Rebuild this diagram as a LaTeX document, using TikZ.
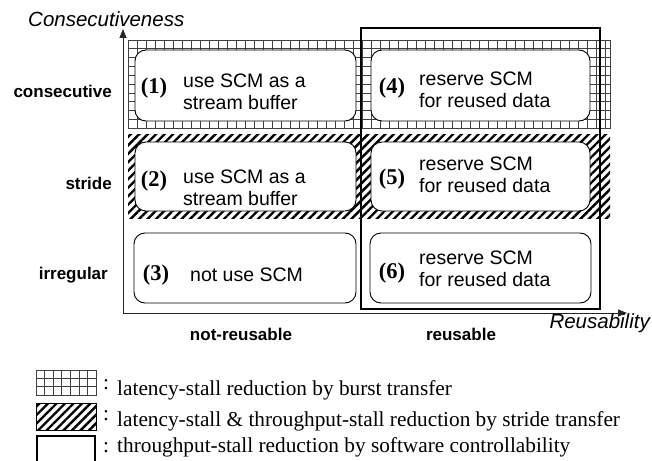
\documentclass[tikz,border=0pt]{standalone}
\usepackage{fontspec}
\setmainfont{Liberation Serif}
\setsansfont{Liberation Sans}
\usetikzlibrary{arrows.meta,patterns.meta}
\begin{document}
\begin{tikzpicture}[x=1pt,y=-1pt,
  cell/.style={draw=black, line width=0.9pt, rounded corners=11pt, fill=white, inner sep=0pt},
  num/.style={font=\fontsize{22.5}{24}\selectfont\bfseries, inner sep=0pt},
  btext/.style={font=\sffamily\fontsize{19.5}{22}\selectfont, align=left, anchor=west, inner sep=0pt},
  rowlab/.style={font=\sffamily\bfseries\fontsize{17}{18}\selectfont, anchor=east, inner sep=0pt},
  collab/.style={font=\sffamily\bfseries\fontsize{17}{18}\selectfont, inner sep=0pt},
  axlab/.style={font=\sffamily\itshape\fontsize{20.5}{22}\selectfont, inner sep=0pt},
  leg/.style={font=\fontsize{21.3}{22}\selectfont, anchor=base west, inner sep=0pt},
  gridline/.style={draw=black!75, line width=0.6pt},
  hatch/.style={pattern={Lines[angle=45,distance=6pt,line width=2.4pt]}},
  axis/.style={line width=1pt, draw=black!85, -{Triangle[length=9pt,width=7pt]}}
]
\useasboundingbox (0,0) rectangle (652,460);

% axes
\coordinate (O) at (123,313);
\coordinate (ytip) at (123,29);
\coordinate (xtip) at (627,313);
\draw[axis] (O) -- (ytip);
\draw[axis] (O) -- (xtip);

% grid band (consecutive)
\begin{scope}
\clip (128,40) rectangle (610,128);
\foreach \i in {0,...,54} \draw[gridline] ({128+9*\i},40) -- ({128+9*\i},128);
\foreach \j in {0,...,10} \draw[gridline] (128,{40+8.8*\j}) -- (610,{40+8.8*\j});
\end{scope}
\draw[gridline] (128,40) rectangle (610,128);

% hatched band (stride)
\fill[hatch] (128,134) rectangle (610,218);

% cells
\node[cell, minimum width=221pt, minimum height=71pt] (b1) at (245.5,85.5) {};
\node[cell, minimum width=219pt, minimum height=71pt] (b4) at (480.5,85.5) {};
\node[cell, minimum width=221pt, minimum height=69pt] (b2) at (245.5,176.5) {};
\node[cell, minimum width=219pt, minimum height=69pt] (b5) at (480.5,176.5) {};
\node[cell, minimum width=222pt, minimum height=70pt] (b3) at (245,268) {};
\node[cell, minimum width=221pt, minimum height=70pt] (b6) at (480.5,268) {};

% cell texts
\node[num] (n1) at (154,88) {(1)};
\node[btext] (t1) at (183,92) {use SCM as a\\stream buffer};
\node[num] (n2) at (154,181) {(2)};
\node[btext] (t2) at (183,188) {use SCM as a\\stream buffer};
\node[num] (n3) at (156,275) {(3)};
\node[btext] (t3) at (190,275) {not use SCM};
\node[num] (n4) at (392,88) {(4)};
\node[btext] (t4) at (419,90) {reserve SCM\\for reused data};
\node[num] (n5) at (392,179) {(5)};
\node[btext] (t5) at (419,175) {reserve SCM\\for reused data};
\node[num] (n6) at (392,273) {(6)};
\node[btext] (t6) at (419,269) {reserve SCM\\for reused data};

% software controllability frame
\draw[line width=2pt] (361,28) rectangle (600,309);

% axis labels
\node[axlab, anchor=west] (ylab) at (28,19) {Consecutiveness};
\node[axlab, anchor=east] (xlab) at (650,323) {Reusability};
\node[rowlab] (r1) at (112,91) {consecutive};
\node[rowlab] (r2) at (112,183) {stride};
\node[rowlab] (r3) at (108,275) {irregular};
\node[collab] (c1) at (241,334) {not-reusable};
\node[collab] (c2) at (461,334) {reusable};

% legend
\begin{scope}
\clip (36,370) rectangle (96,395);
\foreach \i in {0,...,7} \draw[gridline] ({36+60/7*\i},370) -- ({36+60/7*\i},395);
\foreach \j in {0,...,3} \draw[gridline] (36,{370+25/3*\j}) -- (96,{370+25/3*\j});
\end{scope}
\draw[gridline] (36,370) rectangle (96,395);
\fill[hatch] (36,403) rectangle (96,430);
\draw[line width=0.6pt] (36,403) rectangle (96,430);
\draw[line width=2pt] (37,436) rectangle (95,470);

\node[leg] (k1) at (103,389) {:};
\node[leg] (l1) at (117,395) {latency-stall reduction by burst transfer};
\node[leg] (k2) at (103,420) {:};
\node[leg] (l2) at (117,426) {latency-stall \& throughput-stall reduction by stride transfer};
\node[leg] (k3) at (103,452) {:};
\node[leg] (l3) at (117,452) {throughput-stall reduction by software controllability};
\end{tikzpicture}
\end{document}
